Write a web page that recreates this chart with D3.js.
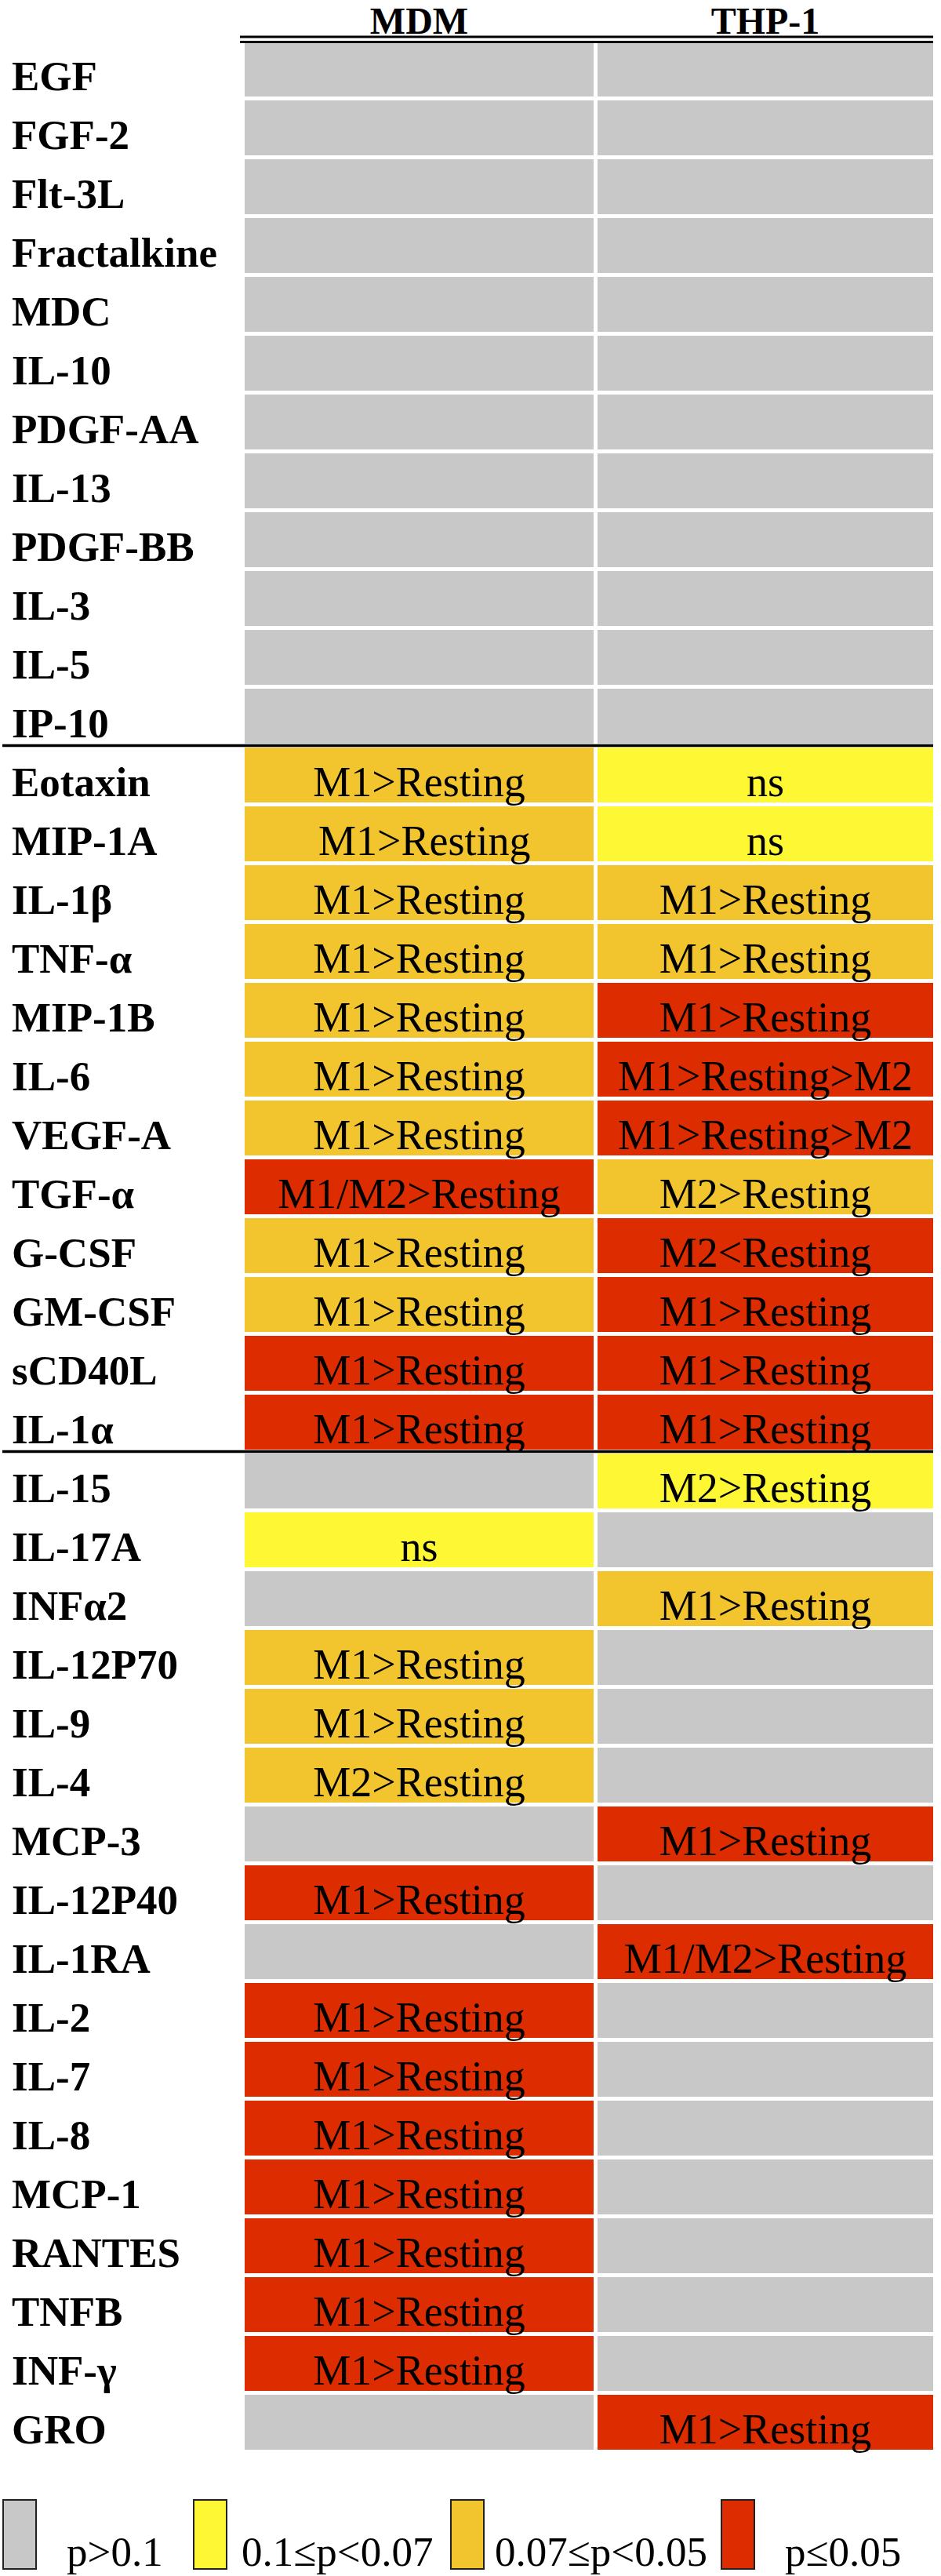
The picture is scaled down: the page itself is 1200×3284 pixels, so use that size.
<!DOCTYPE html>
<html>
<head>
<meta charset="utf-8">
<script src="https://cdn.jsdelivr.net/npm/d3@7"></script>
<style>
  html, body { margin: 0; padding: 0; background: #ffffff; overflow: hidden; }
  svg { display: block; }
  text { font-family: "Liberation Serif", "Times New Roman", "DejaVu Serif", serif; }
</style>
</head>
<body>
<svg id="chart" width="1200" height="3284"></svg>
<script>
// ---------- data ----------
const cytokines = [
  "EGF","FGF-2","Flt-3L","Fractalkine","MDC","IL-10","PDGF-AA","IL-13","PDGF-BB","IL-3","IL-5","IP-10",
  "Eotaxin","MIP-1A","IL-1β","TNF-α","MIP-1B","IL-6","VEGF-A","TGF-α","G-CSF","GM-CSF","sCD40L","IL-1α",
  "IL-15","IL-17A","INFα2","IL-12P70","IL-9","IL-4","MCP-3","IL-12P40","IL-1RA","IL-2","IL-7","IL-8","MCP-1","RANTES","TNFB","INF-γ","GRO"
];
const groupSizes = [12, 12, 17];
const columns = ["MDM", "THP-1"];

// significance class: g = p>0.1, y = 0.1≤p<0.07, o = 0.07≤p<0.05, r = p≤0.05
const mdmSig = [
  "g","g","g","g","g","g","g","g","g","g","g","g",
  "o","o","o","o","o","o","o","r","o","o","r","r",
  "g","y","g","o","o","o","g","r","g","r","r","r","r","r","r","r","g"
];
const mdmText = [
  "","","","","","","","","","","","",
  "M1>Resting","\u00A0M1>Resting","M1>Resting","M1>Resting","M1>Resting","M1>Resting","M1>Resting","M1/M2>Resting","M1>Resting","M1>Resting","M1>Resting","M1>Resting",
  "","ns","","M1>Resting","M1>Resting","M2>Resting","","M1>Resting","","M1>Resting","M1>Resting","M1>Resting","M1>Resting","M1>Resting","M1>Resting","M1>Resting",""
];
const thpSig = [
  "g","g","g","g","g","g","g","g","g","g","g","g",
  "y","y","o","o","r","r","r","o","r","r","r","r",
  "y","g","o","g","g","g","r","g","r","g","g","g","g","g","g","g","r"
];
const thpText = [
  "","","","","","","","","","","","",
  "ns","ns","M1>Resting","M1>Resting","M1>Resting","M1>Resting>M2","M1>Resting>M2","M2>Resting","M2<Resting","M1>Resting","M1>Resting","M1>Resting",
  "M2>Resting","","M1>Resting","","","","M1>Resting","","M1/M2>Resting","","","","","","","","M1>Resting"
];

const sigKeys = ["g","y","o","r"];
const sigColors = ["#c8c8c8","#fdf734","#f2c52e","#dd2c00"];
const legendLabels = ["p>0.1","0.1≤p<0.07","0.07≤p<0.05","p≤0.05"];

// ---------- layout ----------
const svg = d3.select("#chart");
const rowTop = 53, rowStep = 75, rowGap = 5;

const y = d3.scaleBand()
  .domain(cytokines)
  .range([rowTop, rowTop + cytokines.length * rowStep - rowGap])
  .paddingInner(rowGap / rowStep)
  .paddingOuter(0);

const colX = d3.scaleOrdinal().domain(columns).range([312, 762]);
const colW = d3.scaleOrdinal().domain(columns).range([445, 428]);
const color = d3.scaleOrdinal().domain(sigKeys).range(sigColors);

const cells = [];
cytokines.forEach((c, i) => {
  cells.push({ row: c, col: "MDM", sig: mdmSig[i], text: mdmText[i] });
  cells.push({ row: c, col: "THP-1", sig: thpSig[i], text: thpText[i] });
});

// cells
svg.append("g").selectAll("rect")
  .data(cells)
  .join("rect")
  .attr("x", d => colX(d.col))
  .attr("y", d => y(d.row))
  .attr("width", d => colW(d.col))
  .attr("height", y.bandwidth())
  .attr("fill", d => color(d.sig));

// cell text
svg.append("g").selectAll("text")
  .data(cells.filter(d => d.text))
  .join("text")
  .attr("x", d => colX(d.col) + colW(d.col) / 2)
  .attr("y", d => y(d.row) + 62)
  .attr("text-anchor", "middle")
  .attr("font-size", 54)
  .attr("fill", "#000")
  .text(d => d.text);

// row labels
svg.append("g").selectAll("text")
  .data(cytokines)
  .join("text")
  .attr("x", 15)
  .attr("y", d => y(d) + 62)
  .attr("font-size", 53)
  .attr("font-weight", "bold")
  .attr("fill", "#000")
  .text(d => d);

// column headers
svg.append("g").selectAll("text")
  .data(columns)
  .join("text")
  .attr("x", d => colX(d) + colW(d) / 2)
  .attr("y", 43)
  .attr("text-anchor", "middle")
  .attr("font-size", 48)
  .attr("font-weight", "bold")
  .text(d => d);

// header double line
const tableRight = colX("THP-1") + colW("THP-1");
[47, 53.5].forEach(ly => {
  svg.append("line")
    .attr("x1", 306).attr("x2", tableRight)
    .attr("y1", ly).attr("y2", ly)
    .attr("stroke", "#000").attr("stroke-width", 3.2);
});

// group separators
let acc = 0;
groupSizes.slice(0, -1).forEach(n => {
  acc += n;
  const sy = y(cytokines[acc]) - rowGap / 2;
  svg.append("line")
    .attr("x1", 3).attr("x2", tableRight)
    .attr("y1", sy).attr("y2", sy)
    .attr("stroke", "#000").attr("stroke-width", 3.5);
});

// legend
const legendBoxX = [4, 247, 575, 920];
const legendTextX = [85, 308, 631, 1001];
const legend = svg.append("g");
sigKeys.forEach((k, i) => {
  legend.append("rect")
    .attr("x", legendBoxX[i]).attr("y", 3187)
    .attr("width", 42).attr("height", 88)
    .attr("fill", color(k))
    .attr("stroke", "#222").attr("stroke-width", 2);
  legend.append("text")
    .attr("x", legendTextX[i]).attr("y", 3271)
    .attr("font-size", 53)
    .text(legendLabels[i]);
});
</script>
</body>
</html>
